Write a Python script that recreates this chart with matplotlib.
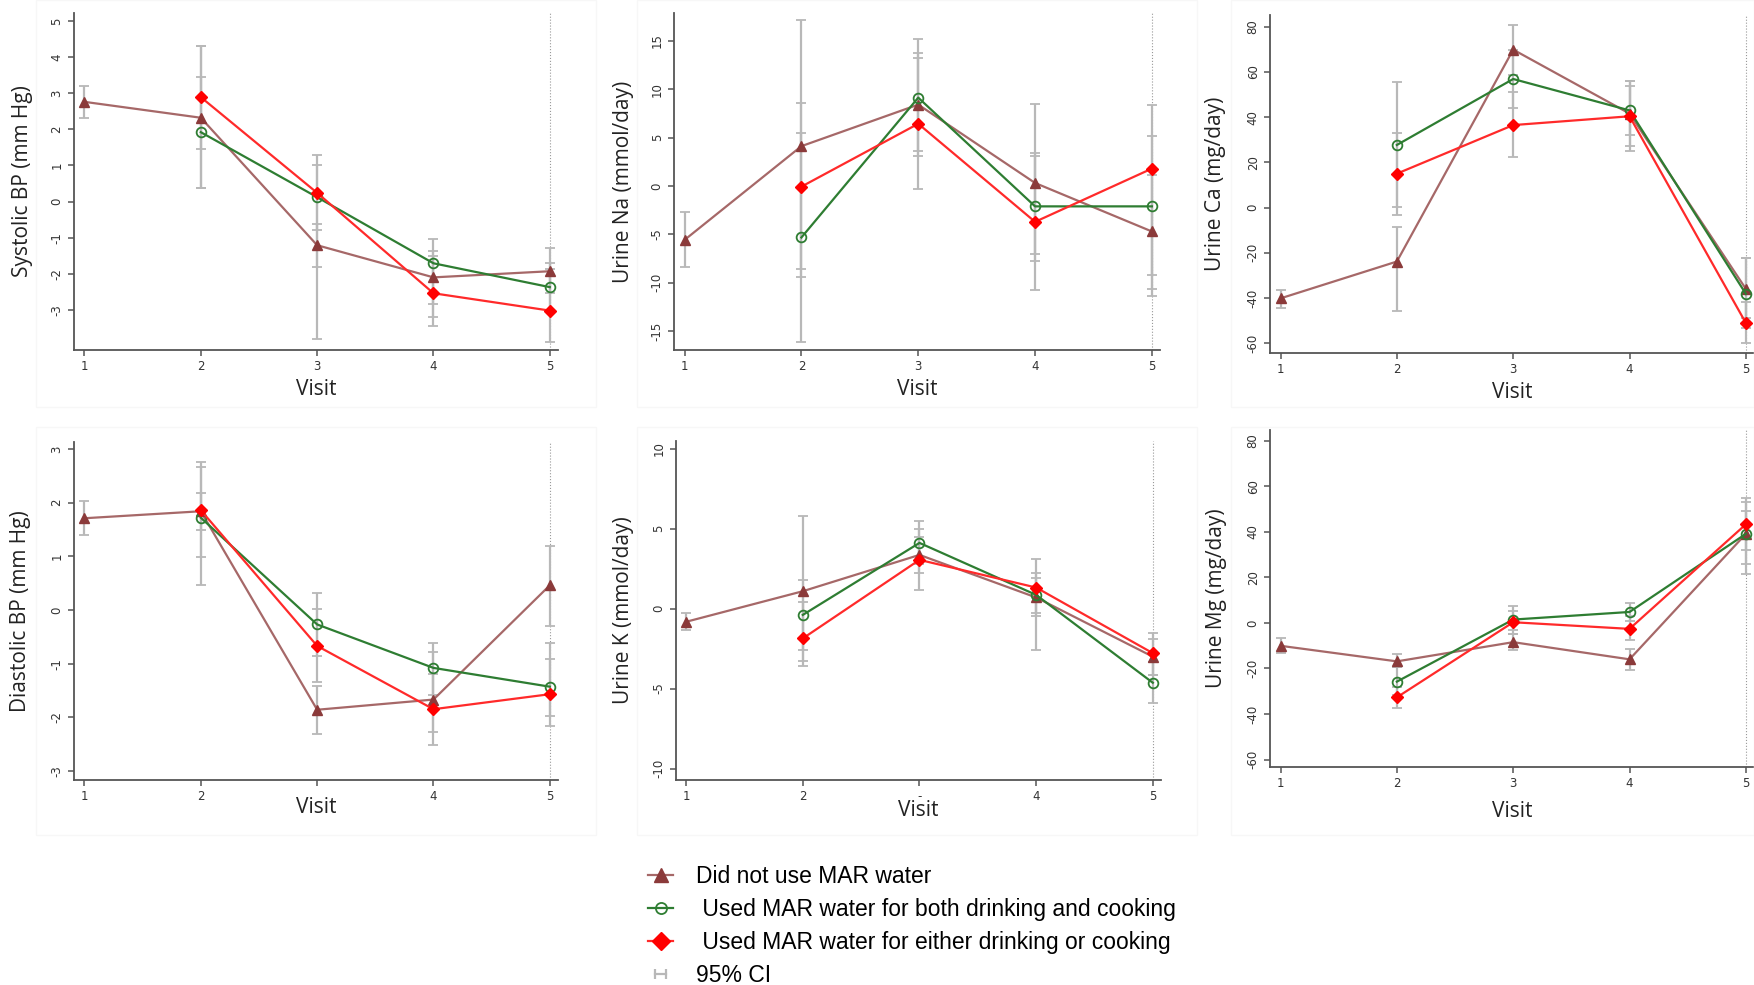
import matplotlib.pyplot as plt
from matplotlib.lines import Line2D
from matplotlib.legend_handler import HandlerLine2D
from matplotlib.patches import Rectangle
import numpy as np

# Data: change from baseline by visit, three groups, with 95% CI
visits = [1, 2, 3, 4, 5]
visits_mar = [2, 3, 4, 5]

# Systolic BP (mm Hg)
sbp_none = [2.76, 2.32, -1.21, -2.10, -1.93]
sbp_none_ci = [(2.32, 3.21), (0.37, 4.31), (-1.80, -0.62), (-3.19, -1.03), (-2.54, -1.29)]
sbp_both = [1.92, 0.12, -1.71, -2.37]
sbp_both_ci = [(0.37, 3.45), (-0.78, 1.02), (-2.84, -1.38), (-3.02, -1.71)]
sbp_either = [2.89, 0.24, -2.54, -3.02]
sbp_either_ci = [(1.46, 4.31), (-3.82, 1.28), (-3.46, -1.52), (-3.88, -1.87)]

# Urine Na (mmol/day)
na_none = [-5.58, 4.12, 8.42, 0.31, -4.71]
na_none_ci = [(-8.38, -2.74), (-9.42, 17.15), (3.57, 13.27), (-7.76, 8.49), (-10.63, 1.11)]
na_both = [-5.33, 9.14, -2.11, -2.11]
na_both_ci = [(-16.1, 5.47), (3.15, 15.26), (-7.03, 3.15), (-9.21, 5.16)]
na_either = [-0.07, 6.44, -3.71, 1.80]
na_either_ci = [(-8.62, 8.62), (-0.31, 13.8), (-10.77, 3.43), (-11.4, 8.35)]

# Urine Ca (mg/day)
ca_none = [-40.2, -23.9, 69.9, 41.6, -36.0]
ca_none_ci = [(-44.4, -36.3), (-46.0, -8.5), (58.5, 81.0), (27.3, 55.9), (-49.1, -22.3)]
ca_both = [27.7, 56.9, 43.0, -38.2]
ca_both_ci = [(0.3, 55.6), (44.1, 69.7), (32.0, 53.6), (-53.5, -22.3)]
ca_either = [15.0, 36.5, 40.4, -51.1]
ca_either_ci = [(-3.1, 33.0), (22.4, 51.0), (25.1, 55.9), (-60.1, -42.0)]

# Diastolic BP (mm Hg)
dbp_none = [1.71, 1.84, -1.86, -1.67, 0.46]
dbp_none_ci = [(1.39, 2.03), (1.50, 2.18), (-2.31, -1.42), (-2.28, -0.78), (-0.29, 1.20)]
dbp_both = [1.72, -0.27, -1.08, -1.43]
dbp_both_ci = [(0.47, 2.67), (-0.85, 0.31), (-1.59, -0.61), (-2.17, -0.61)]
dbp_either = [1.86, -0.67, -1.85, -1.57]
dbp_either_ci = [(0.99, 2.76), (-1.34, 0.01), (-2.51, -1.19), (-1.98, -0.91)]

# Urine K (mmol/day)
k_none = [-0.83, 1.08, 3.35, 0.69, -3.01]
k_none_ci = [(-1.37, -0.27), (-3.58, 5.78), (2.25, 4.47), (-2.60, 2.25), (-4.16, -1.90)]
k_both = [-0.40, 4.10, 0.85, -4.64]
k_both_ci = [(-2.60, 1.79), (2.77, 5.47), (-0.25, 1.93), (-5.93, -3.35)]
k_either = [-1.87, 3.04, 1.31, -2.79]
k_either_ci = [(-3.30, 0.42), (1.14, 5.00), (-0.46, 3.12), (-4.16, -1.56)]

# Urine Mg (mg/day)
mg_none = [-10.06, -16.9, -8.46, -16.0, 39.1]
mg_none_ci = [(-13.3, -6.7), (-19.5, -13.7), (-11.8, -5.0), (-20.7, -11.5), (21.6, 49.0)]
mg_both = [-25.8, 1.46, 4.8, 39.1]
mg_both_ci = [(-31.6, -19.5), (-4.96, 7.4), (0.7, 8.9), (25.7, 53.1)]
mg_either = [-32.7, 0.29, -2.62, 43.3]
mg_either_ci = [(-37.3, -28.0), (-3.2, 5.25), (-7.4, 3.1), (32.2, 54.8)]

# Colours
brown_line = '#a66868'
brown_mk = '#8b3a3a'
green = '#2e7d32'
red = '#ff2a2a'
ci_col = '#b8b8b8'
axis_col = '#555555'

labels = ['Did not use MAR water',
          ' Used MAR water for both drinking and cooking',
          ' Used MAR water for either drinking or cooking',
          '95% CI']

fig = plt.figure(figsize=(17.54, 9.85), dpi=100)
fig.patch.set_facecolor('white')

# very faint frames around each panel
for (x0, y0, w, h) in [(36, 0, 560, 407), (637, 0, 560, 407), (1231, 0, 523, 407),
                       (36, 427, 560, 408), (637, 427, 560, 408), (1231, 427, 523, 408)]:
    fig.patches.append(Rectangle((x0 / 1754, 1 - (y0 + h) / 985), w / 1754, h / 985,
                                 transform=fig.transFigure, fill=False,
                                 edgecolor='#f7f7f7', linewidth=1))


def draw_ci(ax, x, ci):
    lo = np.array([c[0] for c in ci])
    hi = np.array([c[1] for c in ci])
    mid = (lo + hi) / 2
    ax.errorbar(x, mid, yerr=[mid - lo, hi - mid], fmt='none', ecolor=ci_col,
                elinewidth=1.6, capsize=3.5, capthick=1.3, zorder=1)


def panel(rect, ylim, yticks, ylabel, none, none_ci, both, both_ci, either, either_ci,
          ylab_x, xlab_y, xticklabels=('1', '2', '3', '4', '5')):
    ax = fig.add_axes(rect)
    draw_ci(ax, visits, none_ci)
    draw_ci(ax, visits_mar, both_ci)
    draw_ci(ax, visits_mar, either_ci)
    ax.plot(visits, none, color=brown_line, lw=1.6, marker='^', ms=7,
            mfc=brown_mk, mec=brown_mk, zorder=3)
    ax.plot(visits_mar, both, color=green, lw=1.6, marker='o', ms=7,
            mfc='none', mec=green, mew=1.3, zorder=4)
    ax.plot(visits_mar, either, color=red, lw=1.6, marker='D', ms=6.5,
            mfc='#ff0000', mec='#ff0000', zorder=5)
    ax.axvline(5, color='#999999', lw=0.8, ls=':', zorder=0)

    ax.set_xlim(0.91, 5.07)
    ax.set_ylim(*ylim)
    ax.set_xticks(visits)
    ax.set_xticklabels(xticklabels)
    ax.set_yticks(yticks)
    ax.set_yticklabels([str(t) for t in yticks], rotation=90, va='center')
    for s in ['top', 'right']:
        ax.spines[s].set_visible(False)
    for s in ['left', 'bottom']:
        ax.spines[s].set_color(axis_col)
        ax.spines[s].set_linewidth(1.3)
    ax.tick_params(colors=axis_col, length=4, width=1.1, labelsize=8.5,
                   labelcolor='#333333')
    ax.set_ylabel(ylabel, fontsize=15, family='Open Sans', color='#222222')
    ax.set_xlabel('Visit', fontsize=15, family='Open Sans', color='#222222')
    ax.yaxis.set_label_coords(ylab_x, 0.5)
    ax.xaxis.set_label_coords(0.5, xlab_y)
    return ax


panel([0.0422, 0.6447, 0.2759, 0.3421], (-4.11, 5.22), [-3, -2, -1, 0, 1, 2, 3, 4, 5],
      'Systolic BP (mm Hg)', sbp_none, sbp_none_ci, sbp_both, sbp_both_ci,
      sbp_either, sbp_either_ci, -0.085, -0.085)
panel([0.3843, 0.6447, 0.2771, 0.3421], (-16.97, 17.9), [-15, -10, -5, 0, 5, 10, 15],
      'Urine Na (mmol/day)', na_none, na_none_ci, na_both, na_both_ci,
      na_either, na_either_ci, -0.082, -0.085)
panel([0.7241, 0.6416, 0.2759, 0.3431], (-64.4, 85.2), [-60, -40, -20, 0, 20, 40, 60, 80],
      'Urine Ca (mg/day)', ca_none, ca_none_ci, ca_both, ca_both_ci,
      ca_either, ca_either_ci, -0.092, -0.085)
panel([0.0422, 0.2081, 0.2759, 0.3431], (-3.17, 3.13), [-3, -2, -1, 0, 1, 2, 3],
      'Diastolic BP (mm Hg)', dbp_none, dbp_none_ci, dbp_both, dbp_both_ci,
      dbp_either, dbp_either_ci, -0.088, -0.05, xticklabels=('1', '2', '', '4', '5'))
panel([0.3852, 0.2081, 0.2767, 0.3442], (-10.72, 10.47), [-10, -5, 0, 5, 10],
      'Urine K (mmol/day)', k_none, k_none_ci, k_both, k_both_ci,
      k_either, k_either_ci, -0.085, -0.06, xticklabels=('1', '2', '-', '4', '5'))
panel([0.7241, 0.2213, 0.2759, 0.3421], (-63.3, 84.7), [-60, -40, -20, 0, 20, 40, 60, 80],
      'Urine Mg (mg/day)', mg_none, mg_none_ci, mg_both, mg_both_ci,
      mg_either, mg_either_ci, -0.088, -0.1)

# Shared legend under the panels
h_none = Line2D([], [], color=brown_line, lw=1.6, marker='^', ms=10, mfc=brown_mk, mec=brown_mk)
h_both = Line2D([], [], color=green, lw=1.6, marker='o', ms=8, mfc='none', mec=green, mew=1.3)
h_either = Line2D([], [], color=red, lw=1.6, marker='D', ms=9, mfc='#ff0000', mec='#ff0000')
h_ci = Line2D([], [], color=ci_col, lw=1.6, marker='|', ms=7, mew=1.6)
fig.legend([h_none, h_both, h_either, h_ci], labels, loc='upper left',
           bbox_to_anchor=(0.3694, 0.1218), frameon=False, borderpad=0, borderaxespad=0,
           handlelength=1.1, handletextpad=1.0, labelspacing=0.43,
           prop={'family': 'Liberation Sans', 'size': 16.5},
           handler_map={h_ci: HandlerLine2D(numpoints=2)})

fig.savefig('out.png', dpi=100, facecolor='white')
